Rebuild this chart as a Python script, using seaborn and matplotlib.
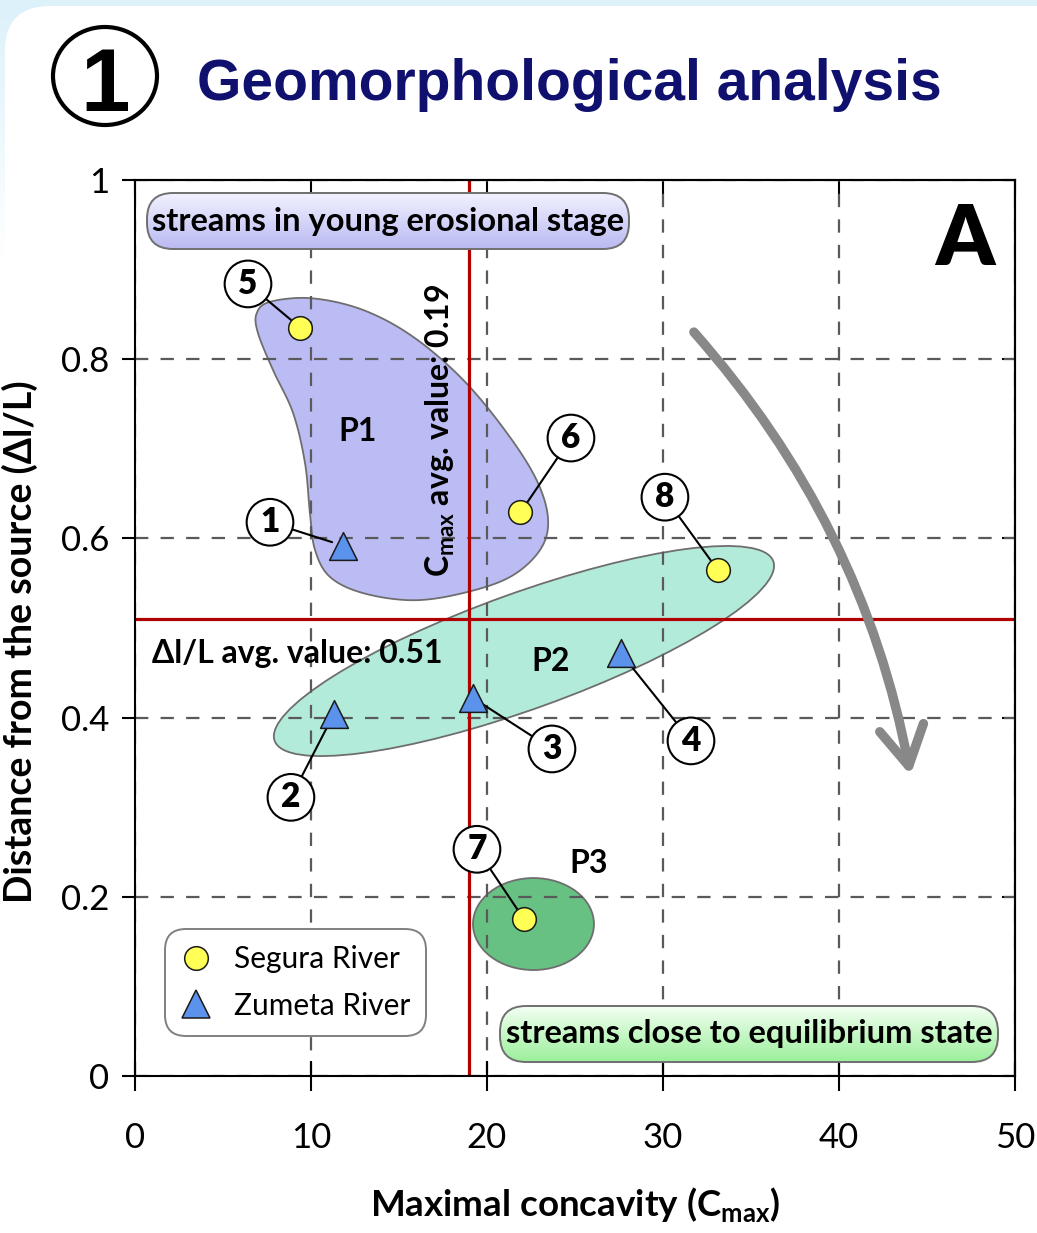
import numpy as np
import pandas as pd
import matplotlib
matplotlib.use("Agg")
import matplotlib.pyplot as plt
import seaborn as sns
from matplotlib import font_manager as fm
from matplotlib.patches import Ellipse, FancyBboxPatch, Polygon, FancyArrowPatch
from matplotlib.lines import Line2D
from matplotlib.colors import to_rgb
from matplotlib.transforms import ScaledTranslation

# ---------------- data ----------------
segura_id = [5, 6, 7, 8]
segura_cmax = [9.4, 21.9, 22.1, 33.1]
segura_dist = [0.835, 0.629, 0.175, 0.565]

zumeta_id = [1, 2, 3, 4]
zumeta_cmax = [11.8, 11.3, 19.2, 27.6]
zumeta_dist = [0.592, 0.404, 0.422, 0.472]

cmax_avg = 19.0
dist_avg = 0.51

x_ticks = [0, 10, 20, 30, 40, 50]
x_tick_labels = ["0", "10", "20", "30", "40", "50"]
y_ticks = [0, 0.2, 0.4, 0.6, 0.8, 1.0]
y_tick_labels = ["0", "0.2", "0.4", "0.6", "0.8", "1"]

# label bubble positions (data coords)
label_pos = {5: (6.42, 0.884), 6: (24.77, 0.712), 1: (7.67, 0.618), 8: (30.11, 0.646),
             2: (8.86, 0.311), 3: (23.69, 0.365), 4: (31.59, 0.374), 7: (19.43, 0.253)}

# group P1 outline (data coords)
p1_x = [6.91, 7.67, 10.04, 12.95, 15.80, 18.64, 21.12, 22.82, 23.47, 23.01, 21.31,
        18.64, 15.80, 12.95, 11.08, 10.23, 9.94, 9.66, 8.98, 7.84, 6.99]
p1_y = [0.851, 0.864, 0.868, 0.855, 0.825, 0.777, 0.718, 0.665, 0.621, 0.587, 0.557,
        0.539, 0.531, 0.539, 0.557, 0.587, 0.628, 0.684, 0.740, 0.788, 0.829]

# ---------------- fonts ----------------
names = {f.name for f in fm.fontManager.ttflist}
BODY = "Lato" if "Lato" in names else "DejaVu Sans"
if "Liberation Sans Narrow" in names:
    TITLE, TITLE_SIZE, ONE_SIZE = "Liberation Sans Narrow", 50, 72
else:
    TITLE, TITLE_SIZE, ONE_SIZE = "Liberation Sans", 41, 64

sns.set_theme(style="white")
plt.rcParams["font.family"] = [BODY, "DejaVu Sans"]
plt.rcParams["mathtext.fontset"] = "custom"
plt.rcParams["mathtext.rm"] = BODY
plt.rcParams["mathtext.bf"] = BODY + ":bold"
plt.rcParams["axes.edgecolor"] = "black"
plt.rcParams["axes.linewidth"] = 1.5
plt.rcParams["text.color"] = "black"
plt.rcParams["axes.labelcolor"] = "black"
plt.rcParams["xtick.color"] = "black"
plt.rcParams["ytick.color"] = "black"

W, H = 1037, 1233
fig = plt.figure(figsize=(W / 100, H / 100), dpi=100)

# ---------------- background ----------------
bg = fig.add_axes([0, 0, 1, 1], zorder=-5)
bg.axis("off")
rows = np.arange(H)
fade = np.clip(1 - rows / 260.0, 0, 1)[:, None]
col = np.ones(3) * (1 - fade) + np.array(to_rgb("#dcf1fa")) * fade
bg.imshow(np.repeat(col[:, None, :], 2, axis=1), extent=(0, 1, 0, 1), aspect="auto", origin="upper")
panel = FancyBboxPatch((0.05, -1), 12, (H - 6) / 100 + 1, boxstyle="round,pad=0,rounding_size=0.45",
                       transform=fig.dpi_scale_trans, fc="white", ec="none")
bg.add_patch(panel)
bg.set_xlim(0, 1)
bg.set_ylim(0, 1)

# ---------------- main axes ----------------
ax = fig.add_axes([135 / W, 1 - 1076 / H, 880 / W, 896 / H])
ax.set_facecolor("white")
ax.set_axisbelow("line")


def smooth_closed(xs, ys, n=24):
    P = np.column_stack([xs, ys])
    N = len(P)
    t = np.linspace(0, 1, n, endpoint=False)[:, None]
    out = []
    for i in range(N):
        p0, p1, p2, p3 = P[(i - 1) % N], P[i], P[(i + 1) % N], P[(i + 2) % N]
        out.append(0.5 * (2 * p1 + (-p0 + p2) * t + (2 * p0 - 5 * p1 + 4 * p2 - p3) * t ** 2
                          + (-p0 + 3 * p1 - 3 * p2 + p3) * t ** 3))
    return np.vstack(out)


# groups
ax.add_patch(Polygon(smooth_closed(p1_x, p1_y), closed=True, fc="#bcbcf5", ec="#6e6e6e", lw=1.3, zorder=1))


def ell(cx, cy, w_in, h_in, ang, fc):
    e = Ellipse((0, 0), w_in, h_in, angle=ang, fc=fc, ec="#6e6e6e", lw=1.3, zorder=1,
                transform=fig.dpi_scale_trans + ScaledTranslation(cx, cy, ax.transData))
    ax.add_patch(e)


ell(22.10, 0.4743, 5.30, 1.16, 19.8, "#b3ebdb")
ell(22.64, 0.1696, 1.21, 0.92, 0, "#66c183")

# average lines
ax.axvline(cmax_avg, color="#b00000", lw=2.3, zorder=2)
ax.axhline(dist_avg, color="#b00000", lw=2.3, zorder=2)

# points
seg = pd.DataFrame({"cmax": segura_cmax, "dist": segura_dist, "id": segura_id})
zum = pd.DataFrame({"cmax": zumeta_cmax, "dist": zumeta_dist, "id": zumeta_id})
sns.scatterplot(data=seg, x="cmax", y="dist", marker="o", s=290, color="#ffff55",
                edgecolor="#1a1a1a", linewidth=1.1, zorder=6, ax=ax, legend=False)
sns.scatterplot(data=zum, x="cmax", y="dist", marker="^", s=400, color="#5a92ec",
                edgecolor="#1a1a1a", linewidth=1.1, zorder=6, ax=ax, legend=False)

# numbered bubbles
for df in (seg, zum):
    for _, r in df.iterrows():
        i = int(r["id"])
        ax.annotate(str(i), xy=(r["cmax"], r["dist"]), xytext=label_pos[i], textcoords="data",
                    ha="center", va="center", fontsize=24, fontweight="heavy", zorder=5,
                    bbox=dict(boxstyle="circle,pad=0.22", fc="white", ec="black", lw=1.5),
                    arrowprops=dict(arrowstyle="-", color="black", lw=1.5, shrinkA=0, shrinkB=8))

# group labels
ax.text(12.67, 0.719, "P1", ha="center", va="center", fontsize=23, fontweight="bold", zorder=4)
ax.text(23.64, 0.463, "P2", ha="center", va="center", fontsize=23, fontweight="bold", zorder=4)
ax.text(25.8, 0.237, "P3", ha="center", va="center", fontsize=23, fontweight="bold", zorder=4)

ax.text(17.33, 0.721, r"C$_\mathregular{max}$ avg. value: 0.19", rotation=90, ha="center", va="center",
        fontsize=23, fontweight="bold", zorder=4)
ax.text(0.97, 0.472, "Δl/L avg. value: 0.51", ha="left", va="center", fontsize=23, fontweight="bold", zorder=4)
ax.text(47.16, 0.905, "A", ha="center", va="baseline", fontsize=60, fontweight="heavy", zorder=4)


# gradient boxes
def gradient_box(x0, y0, w, h, c_top, c_bot, text, fs):
    patch = FancyBboxPatch((x0, y0), w, h, boxstyle="round,pad=0,rounding_size=0.26",
                           transform=fig.dpi_scale_trans, fc="none", ec="#6f6f6f", lw=1.4, zorder=3.2)
    ax.add_patch(patch)
    t = np.linspace(0, 1, 64)[:, None]
    img = (np.array(to_rgb(c_top)) * (1 - t) + np.array(to_rgb(c_bot)) * t)[:, None, :]
    im = ax.imshow(img, extent=(x0, x0 + w, y0, y0 + h), origin="upper", aspect="auto",
                   transform=fig.dpi_scale_trans, zorder=3.1, interpolation="bilinear")
    im.set_clip_path(patch)
    ax.text(x0 + w / 2, y0 + h / 2, text, transform=fig.dpi_scale_trans, ha="center", va="center",
            fontsize=fs, fontweight="bold", zorder=3.3)


gradient_box(1.47, 9.84, 4.82, 0.56, "#f2f2ff", "#b9b9f2", "streams in young erosional stage", 23.5)
gradient_box(5.00, 1.71, 4.98, 0.56, "#f3fff3", "#9bef9b", "streams close to equilibrium state", 23.5)

# curved arrow
arrow = FancyArrowPatch((31.65, 0.8326), (44.09, 0.3326), connectionstyle="arc3,rad=-0.14",
                        arrowstyle="->,head_length=0.7,head_width=0.4", mutation_scale=40,
                        color="#888888", lw=6.8, capstyle="round", joinstyle="round", zorder=4)
ax.add_patch(arrow)

# legend
handles = [Line2D([], [], marker="o", ls="none", markersize=17, mfc="#ffff55", mec="#1a1a1a", mew=1.1),
           Line2D([], [], marker="^", ls="none", markersize=20, mfc="#5a92ec", mec="#1a1a1a", mew=1.1)]
leg = ax.legend(handles, ["Segura River", "Zumeta River"], loc="lower left", bbox_to_anchor=(0.034, 0.0446),
                borderaxespad=0, fontsize=21.5, frameon=True, fancybox=True, framealpha=1,
                edgecolor="#808080", handlelength=0.95, handletextpad=0.8, labelspacing=0.62,
                borderpad=0.55)
leg.get_frame().set_linewidth(1.4)
leg.get_frame().set_boxstyle("round,pad=0,rounding_size=0.7")
leg.set_zorder(7)

# axes styling
ax.set_xlim(0, 50)
ax.set_ylim(0, 1)
ax.set_xticks(x_ticks, labels=x_tick_labels)
ax.set_yticks(y_ticks, labels=y_tick_labels)
ax.grid(True, color="#5a5a5a", lw=1.6, linestyle=(0, (6, 5.5)))
ax.tick_params(axis="x", direction="inout", length=21.6, width=1.5, pad=22, labelsize=25,
               bottom=True, top=False, color="black", labelcolor="black")
ax.tick_params(axis="y", direction="out", length=9.4, width=1.5, pad=9, labelsize=25,
               left=True, right=False, color="black", labelcolor="black")
for s in ax.spines.values():
    s.set_visible(True)
    s.set_color("black")
    s.set_linewidth(1.5)
    s.set_zorder(8)
ax.set_xlabel("")
ax.set_ylabel("")

sec_top = ax.secondary_xaxis("top")
sec_top.set_xticks(x_ticks)
sec_top.tick_params(direction="in", length=10.8, width=1.5, labeltop=False, top=True, color="black")
sec_right = ax.secondary_yaxis("right")
sec_right.set_yticks(y_ticks)
sec_right.tick_params(direction="in", length=9.5, width=1.5, labelright=False, right=True, color="black")
for sa in (sec_top, sec_right):
    for s in sa.spines.values():
        s.set_color("black")
        s.set_linewidth(1.5)

# axis titles
fig.text(575 / W, 1 - 1205 / H, r"Maximal concavity (C$_\mathregular{max}$)", ha="center", va="center",
         fontsize=26.5, fontweight="bold")
fig.text(20 / W, 1 - 642 / H, "Distance from the source (Δl/L)", rotation=90, ha="center", va="center",
         fontsize=27, fontweight="bold")

# heading
fig.add_artist(Ellipse((105 / W, 1 - 76 / H), 104 / W, 98 / H, transform=fig.transFigure,
                       fill=False, ec="black", lw=3.0))
fig.text(105 / W, 1 - 111 / H, "1", ha="center", va="baseline", fontsize=ONE_SIZE, fontweight="bold",
         family=TITLE, color="black")
fig.text(197 / W, 1 - 100 / H, "Geomorphological analysis", ha="left", va="baseline", fontsize=TITLE_SIZE,
         fontweight="bold", family=TITLE, color="#10106e")

fig.savefig("out.png", dpi=100)
